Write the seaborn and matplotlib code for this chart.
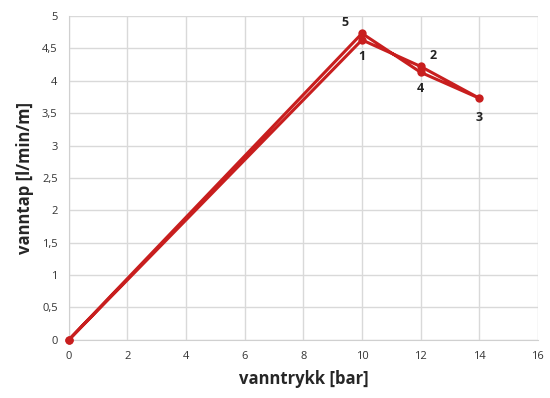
import matplotlib
matplotlib.use("Agg")
import matplotlib.pyplot as plt
import seaborn as sns
import pandas as pd

# measurement order: up to 14 bar and back down again
vanntrykk = [0, 10, 12, 14, 12, 10, 0]
vanntap = [0, 4.63, 4.22, 3.73, 4.13, 4.73, 0]
labels = ["", "1", "2", "3", "4", "5", ""]
label_offsets = [(0, 0), (0, -12), (9, 8), (0, -14), (0, -12), (-12, 8), (0, 0)]

df = pd.DataFrame({"vanntrykk": vanntrykk, "vanntap": vanntap})

sns.set_style("white")
plt.rcParams["font.family"] = ["Open Sans", "DejaVu Sans"]

fig = plt.figure(figsize=(5.5, 3.98), dpi=100)
ax = fig.add_axes([0.125, 0.146, 0.853, 0.814])

sns.lineplot(data=df, x="vanntrykk", y="vanntap", sort=False, estimator=None,
             color="#c81e1e", linewidth=2.2, marker="o", markersize=6,
             markeredgewidth=0, ax=ax, clip_on=False, zorder=3)

for x, y, lab, off in zip(vanntrykk, vanntap, labels, label_offsets):
    if lab:
        ax.annotate(lab, (x, y), xytext=off, textcoords="offset points",
                    ha="center", va="center", fontsize=9, fontweight="bold",
                    color="#222222")

ax.set_xlim(0, 16)
ax.set_ylim(0, 5)
ax.set_xticks(range(0, 17, 2))
yt = [i * 0.5 for i in range(11)]
ax.set_yticks(yt)
ax.set_yticklabels([f"{v:g}".replace(".", ",") for v in yt])
ax.grid(True, color="#d9d9d9", linewidth=1)
ax.tick_params(axis="both", labelsize=8, colors="#333333", length=0, pad=8)
for s in ["top", "right"]:
    ax.spines[s].set_visible(False)
for s in ["left", "bottom"]:
    ax.spines[s].set_color("#d0d0d0")

ax.set_xlabel("vanntrykk [bar]", fontsize=12, fontweight="bold", labelpad=6)
ax.set_ylabel("vanntap [l/min/m]", fontsize=12, fontweight="bold", labelpad=6)

fig.savefig("out.png", dpi=100)
